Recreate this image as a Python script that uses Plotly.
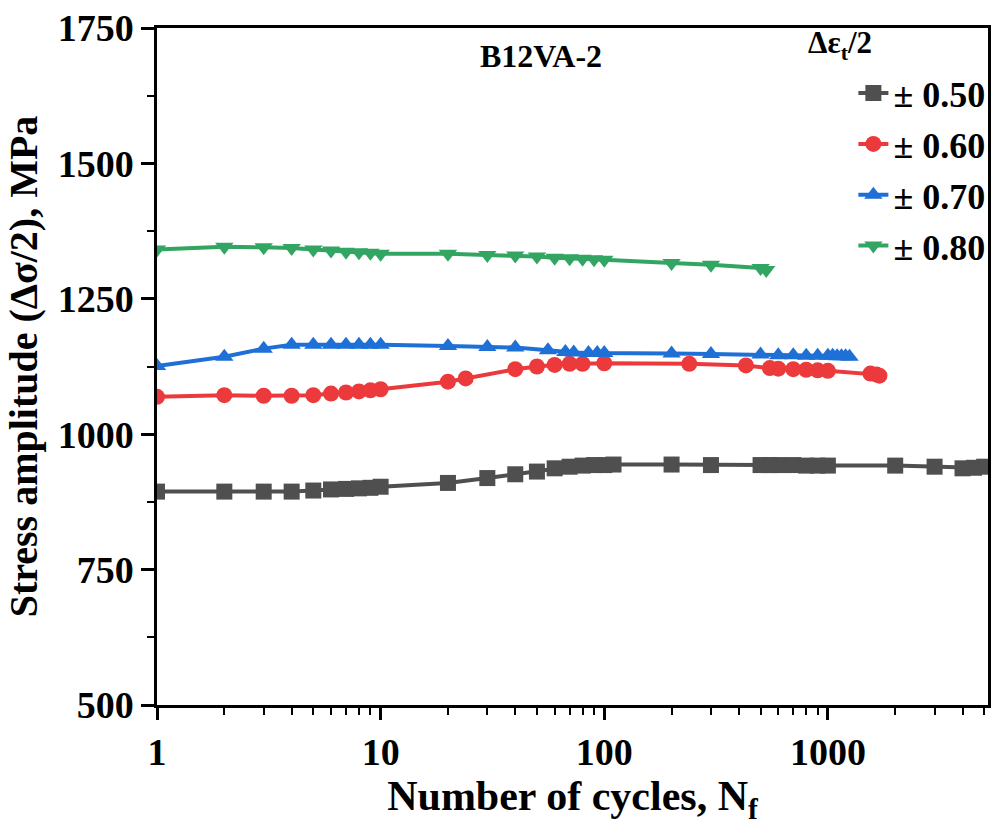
import plotly.graph_objects as go

# ---- data ----
x_050 = [1, 2, 3, 4, 5, 6, 7, 8, 9, 10, 20, 30, 40, 50, 60, 70, 80, 90, 100, 110,
         200, 300, 500, 550, 600, 700, 800, 900, 1000, 2000, 3000, 4000, 4500, 5000]
y_050 = [894, 894, 894, 894, 896, 898, 899, 900, 901, 903, 910, 919, 926, 931, 937, 940, 942, 943, 943, 944,
         944, 943, 943, 943, 943, 943, 942, 942, 942, 942, 940, 937, 938, 940]

x_060 = [1, 2, 3, 4, 5, 6, 7, 8, 9, 10, 20, 24, 40, 50, 60, 70, 80, 100,
         240, 430, 550, 600, 700, 800, 900, 1000, 1550, 1650, 1700]
y_060 = [1069, 1072, 1071, 1071, 1072, 1075, 1077, 1079, 1081, 1083, 1097, 1103, 1120, 1125, 1128, 1130, 1130, 1131,
         1130, 1127, 1122, 1121, 1120, 1119, 1118, 1117, 1112, 1110, 1108]

x_070 = [1, 2, 3, 4, 5, 6, 7, 8, 9, 10, 20, 30, 40, 56, 67, 73, 85, 93, 100,
         200, 300, 500, 600, 700, 800, 900, 1000, 1050, 1100, 1150, 1200, 1250]
y_070 = [1126, 1143, 1158, 1165, 1165, 1165, 1165, 1165, 1165, 1165, 1163, 1161, 1160, 1155, 1152, 1151, 1150, 1150, 1150,
         1149, 1148, 1147, 1146, 1146, 1145, 1145, 1145, 1145, 1144, 1144, 1144, 1143]

x_080 = [1, 2, 3, 4, 5, 6, 7, 8, 9, 10, 20, 30, 40, 50, 60, 70, 80, 90, 100, 200, 300, 500, 530]
y_080 = [1341, 1346, 1345, 1344, 1341, 1339, 1337, 1336, 1335, 1333, 1333, 1331, 1330, 1328, 1326, 1325, 1324, 1323,
         1322, 1316, 1313, 1307, 1303]

series_names = ["± 0.50", "± 0.60", "± 0.70", "± 0.80"]
series_x = [x_050, x_060, x_070, x_080]
series_y = [y_050, y_060, y_070, y_080]
colors = ["#4f4f4f", "#ec3a3c", "#1e6fd6", "#33a563"]
symbols = ["square", "circle", "triangle-up", "triangle-down"]

x_tickvals = [1, 10, 100, 1000]
x_ticktext = ["1", "10", "100", "1000"]
y_tickvals = [500, 750, 1000, 1250, 1500, 1750]

FONT = "Liberation Serif, Times New Roman, serif"

fig = go.Figure()
for i in range(4):
    fig.add_trace(go.Scatter(
        x=series_x[i], y=series_y[i], mode="lines+markers", name=series_names[i],
        legendgroup=f"g{i}",
        line=dict(color=colors[i], width=4),
        marker=dict(symbol=symbols[i], size=16, color=colors[i], line=dict(width=0)),
        cliponaxis=True,
    ))

fig.update_layout(
    width=992, height=827,
    margin=dict(l=157, r=2, t=28, b=122),
    paper_bgcolor="white", plot_bgcolor="white",
    font=dict(family=FONT, color="black", size=30, weight="bold"),
    showlegend=True,
    legend=dict(
        x=0.838, y=0.948, xanchor="left", yanchor="top",
        bgcolor="rgba(0,0,0,0)",
        font=dict(family=FONT, size=36, color="black", weight="bold"),
        traceorder="grouped", tracegroupgap=1,
        itemsizing="trace",
    ),
    xaxis=dict(
        type="log", range=[0, 3.716],
        tickvals=x_tickvals, ticktext=x_ticktext,
        ticks="outside", ticklen=12, tickwidth=2.5, tickcolor="black",
        showline=True, linewidth=2.5, linecolor="black", mirror=True,
        showgrid=False, zeroline=False,
        tickfont=dict(family=FONT, size=38, weight="bold"),
        minor=dict(ticks="outside", ticklen=7, tickwidth=2, tickcolor="black", dtick="D1", showgrid=False),
        title=dict(text="Number of cycles, N<sub>f</sub>", font=dict(family=FONT, size=42, weight="bold"), standoff=5),
    ),
    yaxis=dict(
        range=[500, 1750], tickvals=y_tickvals,
        ticks="outside", ticklen=13, tickwidth=2.5, tickcolor="black",
        showline=True, linewidth=2.5, linecolor="black", mirror=True,
        showgrid=False, zeroline=False,
        tickfont=dict(family=FONT, size=38, weight="bold"),
        minor=dict(ticks="outside", ticklen=7, tickwidth=2, tickcolor="black", dtick=125, showgrid=False),
        title=dict(text="Stress amplitude (Δσ/2), MPa", font=dict(family=FONT, size=40, weight="bold"), standoff=8),
    ),
    annotations=[
        dict(
            text="B12VA-2", x=0.462, y=0.958, xref="paper", yref="paper",
            xanchor="center", yanchor="middle", showarrow=False,
            font=dict(family=FONT, size=32, weight="bold", color="black"),
        ),
        dict(
            text="Δε<sub>t</sub>/2", x=0.822, y=0.975, xref="paper", yref="paper",
            xanchor="center", yanchor="middle", showarrow=False,
            font=dict(family=FONT, size=31, weight="bold", color="black"),
        ),
    ],
)

fig.write_html("out.html")
